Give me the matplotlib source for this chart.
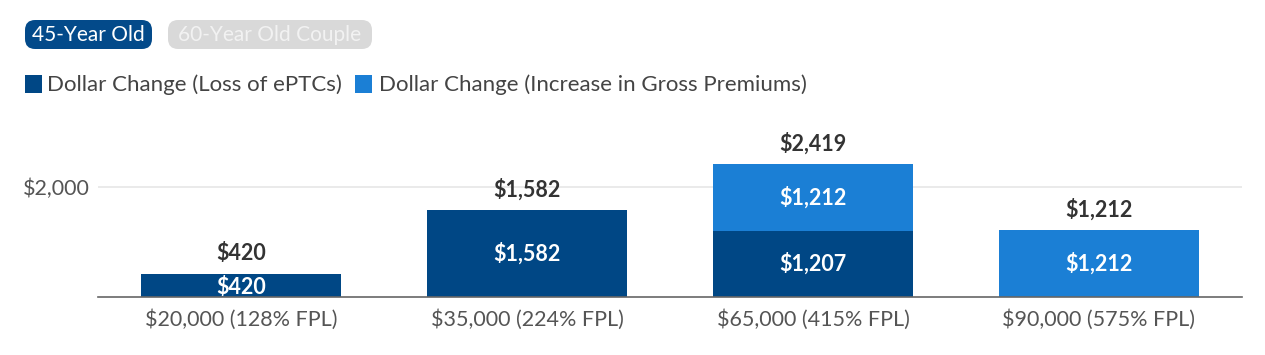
import matplotlib
matplotlib.use("Agg")
import matplotlib.pyplot as plt
from matplotlib.patches import FancyBboxPatch, Rectangle

categories = ["$20,000 (128% FPL)", "$35,000 (224% FPL)", "$65,000 (415% FPL)", "$90,000 (575% FPL)"]
loss_eptc = [420, 1582, 1207, 0]
increase_premiums = [0, 0, 1212, 1212]
totals = [420, 1582, 2419, 1212]
series_names = ["Dollar Change (Loss of ePTCs)", "Dollar Change (Increase in Gross Premiums)"]
buttons = ["45-Year Old", "60-Year Old Couple"]

DARK = "#004785"
LIGHT = "#1b7fd5"
FONT = ["Lato", "DejaVu Sans"]
plt.rcParams["font.family"] = FONT

W, H = 1265, 355
fig = plt.figure(figsize=(W / 100, H / 100), dpi=100)

def fx(px):
    return px / W

def fy(py):
    return 1 - py / H

ax = fig.add_axes([fx(98), fy(297), fx(1242) - fx(98), fy(132) - fy(297)])
x = list(range(len(categories)))
ax.bar(x, loss_eptc, width=0.70, color=DARK, zorder=2)
ax.bar(x, increase_premiums, width=0.70, bottom=loss_eptc, color=LIGHT, zorder=2)
ax.set_xlim(-0.5, len(categories) - 0.5)
ax.set_ylim(0, 3000)
ax.set_yticks([2000])
ax.set_yticklabels(["$2,000"], fontsize=15.5, color="#555555")
ax.set_xticks(x)
ax.set_xticklabels(categories, fontsize=15.5, color="#555555")
ax.tick_params(axis="x", length=0, pad=9)
ax.tick_params(axis="y", length=0, pad=6)
ax.grid(axis="y", color="#e6e6e6", linewidth=1.2, zorder=0)
for s in ["top", "right", "left"]:
    ax.spines[s].set_visible(False)
ax.spines["bottom"].set_color("#666666")
ax.spines["bottom"].set_linewidth(1.2)
ax.spines["bottom"].set_zorder(3)

for i in x:
    if loss_eptc[i] > 0:
        yc = loss_eptc[i] / 2 - 30 if loss_eptc[i] < 600 else loss_eptc[i] / 2
        ax.text(i, yc, f"${loss_eptc[i]:,}",
                ha="center", va="center", color="white", fontsize=15.5, fontweight="bold", zorder=4)
    if increase_premiums[i] > 0:
        ax.text(i, loss_eptc[i] + increase_premiums[i] / 2, f"${increase_premiums[i]:,}",
                ha="center", va="center", color="white", fontsize=15.5, fontweight="bold", zorder=4)
    ax.text(i, totals[i] + 380, f"${totals[i]:,}", ha="center", va="center",
            color="#333333", fontsize=15.5, fontweight="bold", zorder=4)

# buttons
b1 = FancyBboxPatch((fx(25), fy(49)), fx(152) - fx(25), fy(20) - fy(49),
                    boxstyle="round,pad=0,rounding_size=0.008", transform=fig.transFigure,
                    facecolor="#034a8a", edgecolor="none", mutation_aspect=W / H)
b2 = FancyBboxPatch((fx(168), fy(49)), fx(372) - fx(168), fy(20) - fy(49),
                    boxstyle="round,pad=0,rounding_size=0.008", transform=fig.transFigure,
                    facecolor="#d9d9d9", edgecolor="none", mutation_aspect=W / H)
fig.patches.extend([b1, b2])
fig.text(fx(88.5), fy(35), buttons[0], ha="center", va="center", color="white", fontsize=15)
fig.text(fx(270), fy(35), buttons[1], ha="center", va="center", color="#f2f2f2", fontsize=15)

# legend
fig.patches.append(Rectangle((fx(25), fy(93)), fx(17), fy(75) - fy(93), transform=fig.transFigure,
                             facecolor=DARK, edgecolor="none"))
fig.text(fx(47), fy(85), series_names[0], ha="left", va="center", color="#444444", fontsize=16)
fig.patches.append(Rectangle((fx(355), fy(93)), fx(17), fy(75) - fy(93), transform=fig.transFigure,
                             facecolor=LIGHT, edgecolor="none"))
fig.text(fx(379), fy(85), series_names[1], ha="left", va="center", color="#444444", fontsize=16)

fig.savefig("out.png", dpi=100)
